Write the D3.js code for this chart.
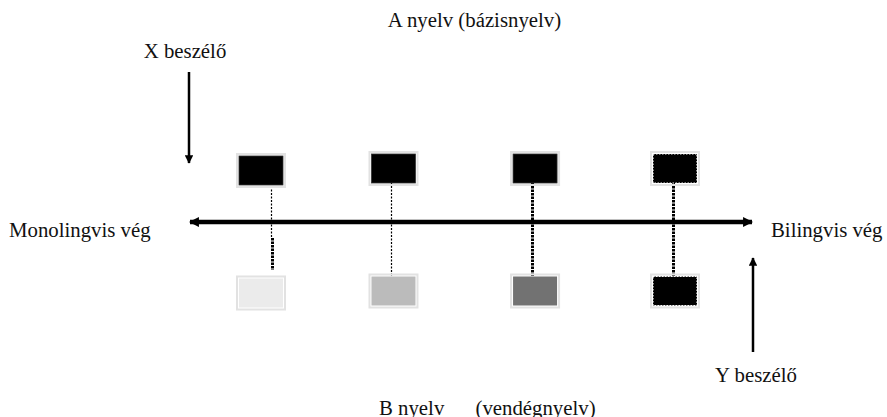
<!DOCTYPE html>
<html>
<head>
<meta charset="utf-8">
<script src="https://cdn.jsdelivr.net/npm/d3@7/dist/d3.min.js"></script>
<style>
  html, body { margin: 0; padding: 0; background: #fff; }
  svg { display: block; }
  text { font-family: "Liberation Serif", "Times New Roman", serif; font-size: 20.8px; fill: #111; white-space: pre; }
</style>
</head>
<body>
<svg id="chart" width="887" height="417"></svg>
<script>
// ---- data ----
const speakers = ["1", "2", "3", "4"];
// place of each speaker on the monolingual -> bilingual continuum (0..1)
const continuumPos = [0.0, 0.32, 0.662, 1.0];
// place of the connecting line (continuum units)
const linkPos = [0.024, 0.314, 0.655, 0.995];
// share of language A (top box darkness) and language B (bottom box darkness)
const baseShare = [1.0, 1.0, 1.0, 1.0];
const guestShare = [0.078, 0.267, 0.553, 1.0];
// kind of connection between the two languages
const linkType = ["split", "thin", "thick", "thick"];
const fullBilingual = [false, false, false, true];
const labels = {
  top: "A nyelv (bázisnyelv)",
  bottom: "B nyelv      (vendégnyelv)",
  left: "Monolingvis vég",
  right: "Bilingvis vég",
  xSpeaker: "X beszélő",
  ySpeaker: "Y beszélő"
};

// ---- scales ----
const svg = d3.select("#chart");
const x = d3.scaleLinear().domain([0, 1]).range([261, 675]);
const shade = d3.scaleLinear().domain([0, 1]).range(["#ffffff", "#000000"]);
const yTop = 168.5, yBottom = 291, yAxis = 222;
const boxW = 46, boxH = 31;

// ---- arrow markers ----
const defs = svg.append("defs");
defs.append("marker").attr("id", "head").attr("viewBox", "0 0 10 10")
  .attr("refX", 9).attr("refY", 5).attr("markerWidth", 3.4).attr("markerHeight", 3.4)
  .attr("markerUnits", "strokeWidth").attr("orient", "auto-start-reverse")
  .append("path").attr("d", "M0,0 L10,5 L0,10 Z").attr("fill", "#000");
defs.append("marker").attr("id", "head2").attr("viewBox", "0 0 10 10")
  .attr("refX", 9).attr("refY", 5).attr("markerWidth", 2.2).attr("markerHeight", 2.2)
  .attr("markerUnits", "strokeWidth").attr("orient", "auto-start-reverse")
  .append("path").attr("d", "M0,0 L10,5 L0,10 Z").attr("fill", "#000");

const idx = d3.range(speakers.length);

// ---- connectors ----
const links = svg.append("g");
idx.forEach(i => {
  const lx = Math.round(x(linkPos[i])) + 0.5;
  const t = linkType[i];
  if (t === "split") {
    links.append("line").attr("x1", lx).attr("x2", lx).attr("y1", yTop + boxH / 2 + 2).attr("y2", 238)
      .attr("stroke", "#000").attr("stroke-width", 1.2).attr("stroke-dasharray", "2,1.5");
    links.append("line").attr("x1", lx + 1).attr("x2", lx + 1).attr("y1", 238).attr("y2", 270)
      .attr("stroke", "#000").attr("stroke-width", 3).attr("stroke-dasharray", "2.5,1");
  } else if (t === "thin") {
    links.append("line").attr("x1", lx).attr("x2", lx).attr("y1", yTop).attr("y2", yBottom)
      .attr("stroke", "#000").attr("stroke-width", 1.2).attr("stroke-dasharray", "2,1.5");
  } else {
    links.append("line").attr("x1", lx).attr("x2", lx).attr("y1", yTop).attr("y2", yBottom)
      .attr("stroke", "#000").attr("stroke-width", 3).attr("stroke-dasharray", "2.5,1");
  }
});

// ---- continuum axis ----
svg.append("line")
  .attr("x1", 190).attr("x2", 752).attr("y1", yAxis).attr("y2", yAxis)
  .attr("stroke", "#000").attr("stroke-width", 4.5)
  .attr("marker-start", "url(#head2)").attr("marker-end", "url(#head2)");

// ---- boxes ----
function drawBoxes(yc, shares) {
  const g = svg.append("g");
  idx.forEach(i => {
    const cx = x(continuumPos[i]);
    const yy = yc - boxH / 2 + (i === 0 ? 2 : 0);
    g.append("rect").attr("x", cx - boxW / 2 - 1).attr("y", yy - 1)
      .attr("width", boxW + 2).attr("height", boxH + 2)
      .attr("fill", "none").attr("stroke", "#e2e2e2").attr("stroke-width", 2);
    g.append("rect").attr("x", cx - boxW / 2 + 1).attr("y", yy + 1)
      .attr("width", boxW - 2).attr("height", boxH - 2)
      .attr("fill", shade(shares[i]))
      .attr("stroke", fullBilingual[i] ? "#ffffff" : (shares[i] > 0.9 ? "#333" : "none"))
      .attr("stroke-width", fullBilingual[i] ? 1.2 : 0.8)
      .attr("stroke-dasharray", fullBilingual[i] ? "1.5,1.5" : null);
  });
}
drawBoxes(yTop, baseShare);
drawBoxes(yBottom, guestShare);

// ---- speaker arrows ----
svg.append("line").attr("x1", 189).attr("x2", 189).attr("y1", 72).attr("y2", 163)
  .attr("stroke", "#000").attr("stroke-width", 2.5).attr("marker-end", "url(#head)");
svg.append("line").attr("x1", 753).attr("x2", 753).attr("y1", 352).attr("y2", 258)
  .attr("stroke", "#000").attr("stroke-width", 2.5).attr("marker-end", "url(#head)");

// ---- labels ----
svg.append("text").attr("x", 474.5).attr("y", 27).attr("text-anchor", "middle").text(labels.top);
svg.append("text").attr("x", 379).attr("y", 414.5).text(labels.bottom);
svg.append("text").attr("x", 9).attr("y", 237).text(labels.left);
svg.append("text").attr("x", 771).attr("y", 237).text(labels.right);
svg.append("text").attr("x", 185).attr("y", 58).attr("text-anchor", "middle").text(labels.xSpeaker);
svg.append("text").attr("x", 756).attr("y", 382).attr("text-anchor", "middle").text(labels.ySpeaker);
</script>
</body>
</html>
